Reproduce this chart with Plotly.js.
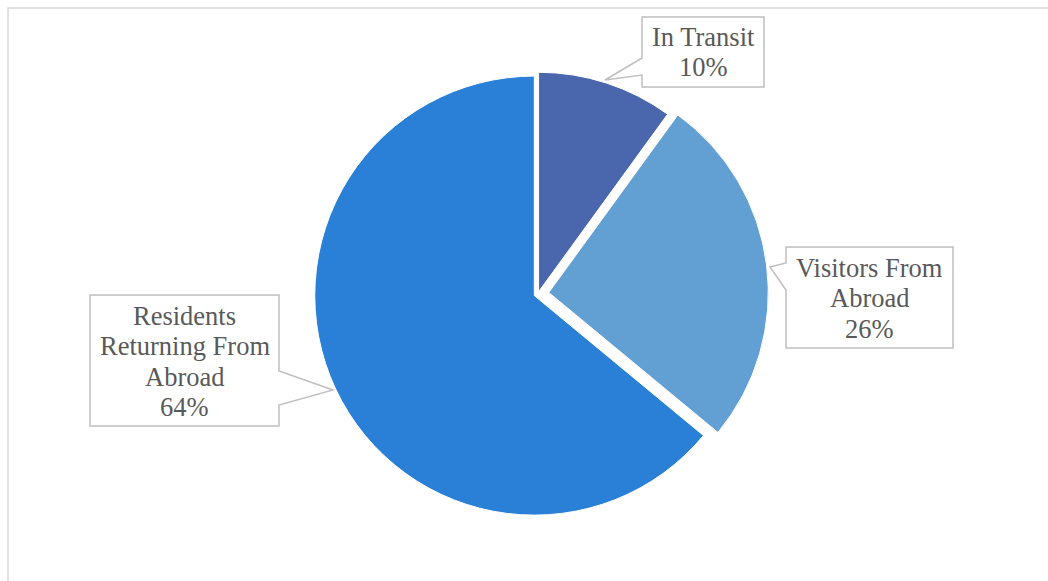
<!DOCTYPE html>
<html>
<head>
<meta charset="utf-8">
<script src="https://cdn.plot.ly/plotly-3.0.1.min.js"></script>
<style>
  html, body { margin: 0; padding: 0; background: #fff; }
  #chart { width: 1048px; height: 581px; }
</style>
</head>
<body>
<div id="chart"></div>
<script>
// data
var categories = ['In Transit', 'Visitors From Abroad', 'Residents Returning From Abroad'];
var values = [10, 26, 64];
// how each label is broken into lines in its callout
var labelLines = [
    ['In Transit'],
    ['Visitors From', 'Abroad'],
    ['Residents', 'Returning From', 'Abroad']
];

var colors = ['#4a67ae', '#629fd2', '#2a7fd7'];

var W = 1048, H = 581;
function px(x) { return x / W; }
function py(y) { return 1 - y / H; }

// callout boxes (pixels): box rect, notch side points and tip, text centre x, first baseline
var callouts = [
    {box: [642, 17, 764, 87], notch: [[642, 75], [605, 80], [642, 58]], side: 'left', cx: 703, base: 46},
    {box: [786, 247, 953, 348], notch: [[786, 290], [770, 267], [786, 263]], side: 'left', cx: 869.5, base: 277},
    {box: [90, 295, 279, 426], notch: [[279, 371], [333, 390], [279, 405]], side: 'right', cx: 184.5, base: 325}
];
var lineGap = 30.3;

function calloutPath(c) {
    var l = c.box[0], t = c.box[1], r = c.box[2], b = c.box[3];
    var pts;
    if (c.side === 'left') {
        pts = [[l, t], [r, t], [r, b], [l, b]].concat(c.notch);
    } else {
        pts = [[l, t], [r, t]].concat(c.notch).concat([[r, b], [l, b]]);
    }
    return pts.map(function(p, i) {
        return (i === 0 ? 'M' : 'L') + px(p[0]).toFixed(5) + ',' + py(p[1]).toFixed(5);
    }).join(' ') + ' Z';
}

var total = values.reduce(function(a, b) { return a + b; }, 0);

var shapes = [{
    type: 'rect', xref: 'paper', yref: 'paper', layer: 'below',
    x0: px(8), y0: -0.05, x1: 1.05, y1: py(8),
    line: {color: '#d9d9d9', width: 1.5}
}];
var annotations = [];

callouts.forEach(function(c, i) {
    shapes.push({
        type: 'path', xref: 'paper', yref: 'paper', layer: 'above',
        path: calloutPath(c),
        fillcolor: '#ffffff',
        line: {color: '#bfbfbf', width: 1.5}
    });
    var lines = labelLines[i].concat([Math.round(values[i] / total * 100) + '%']);
    lines.forEach(function(txt, k) {
        annotations.push({
            xref: 'paper', yref: 'paper',
            x: px(c.cx), y: py(c.base + k * lineGap - 9),
            xanchor: 'center', yanchor: 'middle',
            text: txt, showarrow: false,
            font: {family: '"Liberation Serif", "Times New Roman", serif', size: 26.5, color: '#595959'}
        });
    });
});

var trace = {
    type: 'pie',
    labels: categories,
    values: values,
    sort: false,
    direction: 'clockwise',
    rotation: 0,
    pull: [0.01, 0.05, 0.018],
    marker: {colors: colors, line: {color: '#ffffff', width: 1}},
    textinfo: 'none',
    hoverinfo: 'label+percent',
    domain: {x: [0.2933, 0.7332], y: [0.0966, 0.8917]}
};

var layout = {
    width: W,
    height: H,
    margin: {l: 0, r: 0, t: 0, b: 0, pad: 0},
    paper_bgcolor: '#ffffff',
    plot_bgcolor: '#ffffff',
    showlegend: false,
    shapes: shapes,
    annotations: annotations
};

Plotly.newPlot('chart', [trace], layout, {displayModeBar: false, staticPlot: true});
</script>
</body>
</html>
